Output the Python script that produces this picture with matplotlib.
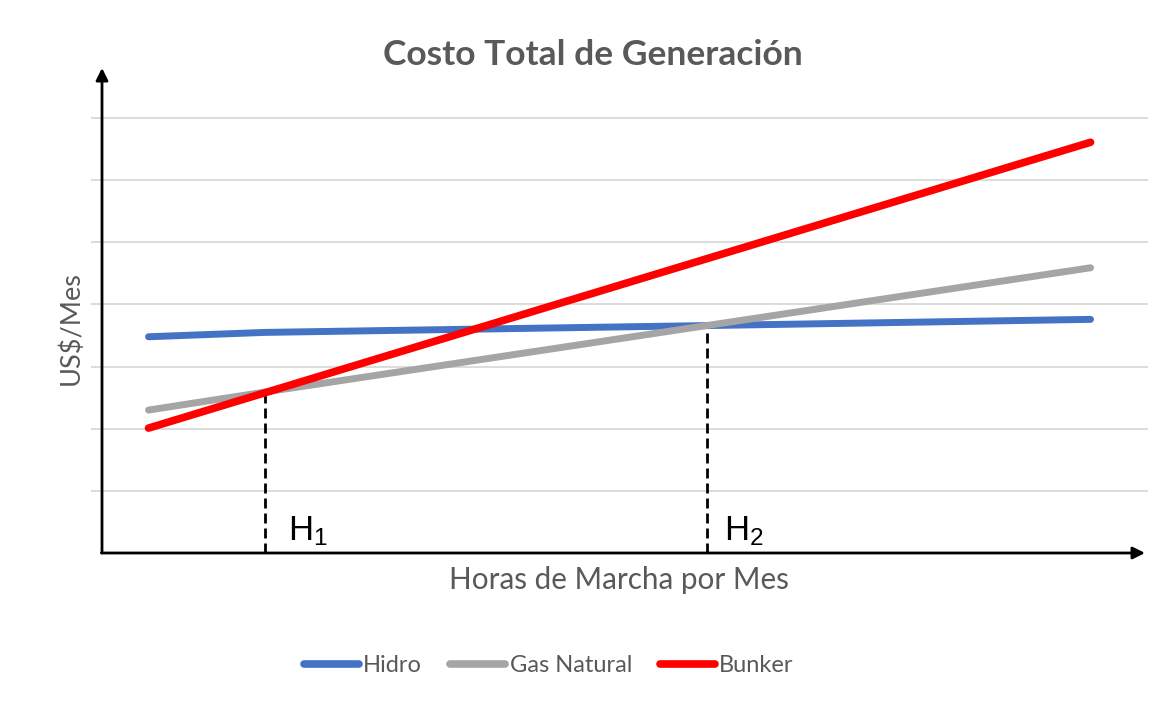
import matplotlib
matplotlib.use("Agg")
import matplotlib.pyplot as plt
from matplotlib.lines import Line2D

# ---- data (hours per month vs cost, arbitrary units) ----
hours = [40, 140, 520, 850]
hidro = [3.48, 3.55, 3.66, 3.76]
gas_natural = [2.30, 2.59, 3.66, 4.59]
bunker_hours = [40, 850]
bunker = [2.01, 6.61]
h1_x, h1_y = 140, 2.59
h2_x, h2_y = 520, 3.66
series_names = ["Hidro", "Gas Natural", "Bunker"]

W, H = 1176, 707
fig = plt.figure(figsize=(W / 100, H / 100), dpi=100)
fig.patch.set_facecolor("white")

# axes spanning the grid area (pixels: x 91..1148, y 68..553)
left_px, right_px, top_px, bottom_px = 91, 1148, 68, 553
ax = fig.add_axes([left_px / W, 1 - bottom_px / H, (right_px - left_px) / W, (bottom_px - top_px) / H])
px_per_hour = 1.163
px_per_unit = 62.14
ax.set_xlim(-(102 - left_px) / px_per_hour, (right_px - 102) / px_per_hour)
ax.set_ylim(0, (bottom_px - top_px) / px_per_unit)

for s in ax.spines.values():
    s.set_visible(False)
ax.set_xticks([])
ax.set_yticks(range(1, 8))
ax.tick_params(axis="y", length=0, labelleft=False)
ax.grid(axis="y", color="#D9D9D9", lw=1.3)
ax.set_axisbelow(True)

gray_text = "#595959"
c_hidro, c_gas, c_bunker = "#4472C4", "#A5A5A5", "#FF0000"

# drop lines
dash = (0, (3.6, 1.8))
ax.plot([h1_x, h1_x], [0, h1_y], color="black", lw=2, ls=dash, zorder=2)
ax.plot([h2_x, h2_x], [0, h2_y], color="black", lw=2, ls=dash, zorder=2)

ax.plot(hours, hidro, color=c_hidro, lw=5, solid_capstyle="round", solid_joinstyle="round", zorder=3, label=series_names[0])
ax.plot(hours, gas_natural, color=c_gas, lw=5, solid_capstyle="round", solid_joinstyle="round", zorder=3, label=series_names[1])
ax.plot(bunker_hours, bunker, color=c_bunker, lw=5.5, solid_capstyle="round", solid_joinstyle="round", zorder=4, label=series_names[2])

# axes arrows
ymax = ax.get_ylim()[1]
ax.annotate("", xy=(0, ymax), xytext=(0, 0),
            arrowprops=dict(arrowstyle="-|>", lw=2, color="black", mutation_scale=18, shrinkA=0, shrinkB=0),
            annotation_clip=False, zorder=5)
x_end = (1145 - 102) / px_per_hour
ax.annotate("", xy=(x_end, 0), xytext=(-0.5, 0),
            arrowprops=dict(arrowstyle="-|>", lw=2, color="black", mutation_scale=18, shrinkA=0, shrinkB=0),
            annotation_clip=False, zorder=5)

# H labels
ax.text(h1_x + 20, 0.21, r"$\mathregular{H_1}$", fontsize=25, family="Liberation Sans", ha="left", va="baseline")
ax.text(h2_x + 15, 0.21, r"$\mathregular{H_2}$", fontsize=25, family="Liberation Sans", ha="left", va="baseline")

font = "Lato"
fig.text(593 / W, 1 - 55 / H, "Costo Total de Generación", fontsize=25.5, fontweight="bold",
         color=gray_text, family=font, ha="center", va="center")
fig.text(71 / W, 1 - 328 / H, "US$/Mes", fontsize=19.5, color=gray_text, family=font,
         rotation=90, ha="center", va="center")
fig.text(619 / W, 1 - 580 / H, "Horas de Marcha por Mes", fontsize=21.3, color=gray_text,
         family=font, ha="center", va="center")

handles = [Line2D([], [], color=c, lw=5.5, solid_capstyle="round") for c in (c_hidro, c_gas, c_bunker)]
leg = fig.legend(handles, series_names, loc="center", bbox_to_anchor=(549 / W, 1 - 666 / H),
                 ncol=3, frameon=False, handlelength=2.3, handletextpad=0.2, columnspacing=1.2,
                 prop=dict(family=font, size=17))
for t in leg.get_texts():
    t.set_color(gray_text)

fig.savefig("out.png", dpi=100, facecolor="white")
